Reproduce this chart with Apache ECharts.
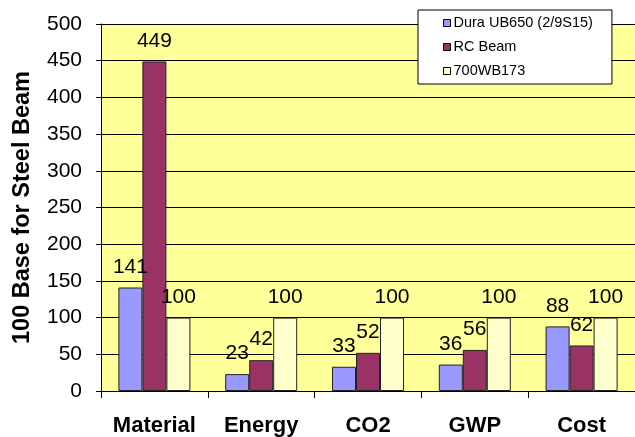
<!DOCTYPE html>
<html>
<head>
<meta charset="utf-8">
<script src="https://cdn.jsdelivr.net/npm/echarts@6/dist/echarts.min.js"></script>
<style>html,body{margin:0;padding:0;background:#fff;}#c{width:635px;height:437px;}</style>
</head>
<body>
<div id="c"></div>
<script>
const categories = ['Material', 'Energy', 'CO2', 'GWP', 'Cost'];
const seriesNames = ['Dura UB650 (2/9S15)', 'RC Beam', '700WB173'];
const duraValues = [141, 23, 33, 36, 88];
const rcValues = [449, 42, 52, 56, 62];
const wbValues = [100, 100, 100, 100, 100];
const yTicks = { min: 0, max: 500, interval: 50 };
const yTitle = '100 Base for Steel Beam';

const FONT = "'Liberation Sans', Arial, sans-serif";
const colors = ['#9999FF', '#993366', '#FFFFCC'];
const valueSets = [duraValues, rcValues, wbValues];

const chart = echarts.init(document.getElementById('c'), null, { renderer: 'canvas' });
chart.setOption({
  animation: false,
  textStyle: { fontFamily: FONT },
  grid: {
    left: 101, right: 0, top: 24, bottom: 46,
    show: true, backgroundColor: '#FFFF99', borderWidth: 0
  },
  legend: {
    orient: 'vertical',
    left: 418, top: 10,
    padding: [5, 19, 5, 25],
    backgroundColor: '#FFFFFF',
    borderColor: '#000000', borderWidth: 1,
    itemWidth: 7, itemHeight: 7, itemGap: 8,
    icon: 'rect',
    itemStyle: { borderColor: '#000', borderWidth: 1 },
    textStyle: { fontFamily: FONT, fontSize: 14.5, color: '#000', lineHeight: 16, padding: [0, 0, 0, -2] },
    data: seriesNames
  },
  xAxis: {
    type: 'category',
    data: categories,
    axisLine: { lineStyle: { color: '#000', width: 1 } },
    axisTick: { show: true, length: 7, alignWithLabel: false, lineStyle: { color: '#000' } },
    axisLabel: { interval: 0, hideOverlap: false, fontFamily: FONT, fontSize: 22, fontWeight: 'bold', color: '#000', margin: 24 }
  },
  yAxis: {
    type: 'value',
    min: yTicks.min, max: yTicks.max, interval: yTicks.interval,
    name: yTitle,
    nameLocation: 'middle',
    nameRotate: 90,
    nameGap: 66,
    nameTextStyle: { fontFamily: FONT, fontSize: 23.5, fontWeight: 'bold', color: '#000' },
    axisLine: { show: true, lineStyle: { color: '#000', width: 1 } },
    axisTick: { show: true, length: 5, lineStyle: { color: '#000' } },
    axisLabel: { fontFamily: FONT, fontSize: 21, color: '#000', margin: 19 },
    splitLine: { show: true, lineStyle: { color: '#000', width: 1 } }
  },
  series: seriesNames.map((name, i) => ({
    name: name,
    type: 'bar',
    data: valueSets[i],
    barWidth: 24,
    barGap: '0%',
    itemStyle: { color: colors[i], borderColor: '#222', borderWidth: 1 },
    label: {
      show: true, position: 'top', distance: 10,
      fontFamily: FONT, fontSize: 21, color: '#000'
    }
  }))
});
</script>
</body>
</html>
